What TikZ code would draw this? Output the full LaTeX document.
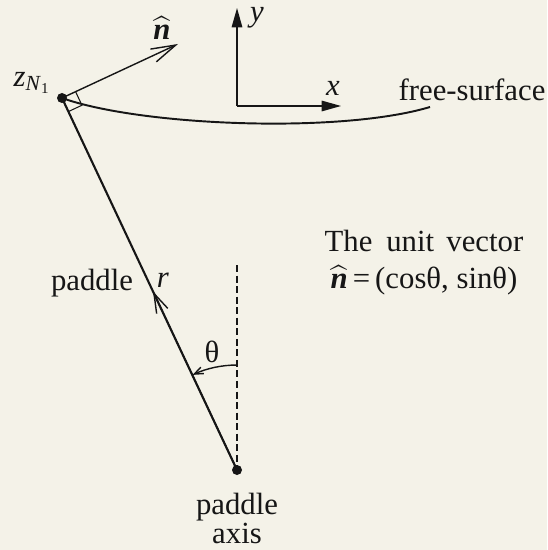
\documentclass[tikz,border=0pt]{standalone}
\usepackage{amsmath}
\usepackage{exscale}
\usepackage{fontspec}
\setmainfont{Liberation Serif}
\usetikzlibrary{arrows.meta, positioning, calc}
\definecolor{paper}{HTML}{F4F2E8}
\definecolor{ink}{HTML}{161616}
\newcommand{\nhat}{\ensuremath{\widehat{\textbf{\textit{n}}}}}
\tikzset{
  dot/.style={circle, fill=ink, inner sep=0pt, minimum size=0.2cm},
  lbl/.style={text=ink, inner sep=1pt, font=\fontsize{17.5}{21}\selectfont},
  axisarrow/.style={-{Triangle[length=11pt, width=6pt]}, draw=ink,
    line width=0.8pt},
  barb/.style={-{Straight Barb[#1]}, draw=ink, line width=0.8pt},
  paddleline/.style={draw=ink, line width=1.2pt},
  surface/.style={draw=ink, line width=1.1pt},
  thinline/.style={draw=ink, line width=0.6pt}
}

\begin{document}
\begin{tikzpicture}[x=0.02cm, y=0.02cm]
  \fill[paper] (0,0) rectangle (547,-550);
  \useasboundingbox (0,0) rectangle (547,-550);
  % points
  \node[dot] (zN) at (62,-98) {};
  \node[dot] (pivot) at (237,-470) {};
  \coordinate (nTip) at (178,-44);
  \coordinate (orig) at (237,-106);
  \coordinate (yTip) at (237,-8);
  \coordinate (xTip) at (341,-106);
  \coordinate (fsEnd) at (430,-107);
  \coordinate (vTop) at (237,-265);
  \coordinate (rMid) at ($(pivot)!0.48!(zN)$);
  \coordinate (arcStart) at ($(pivot)+(90:2.1cm)$);
  % axes
  \draw[axisarrow] (orig) -- (yTip);
  \draw[axisarrow] (orig) -- (xTip);
  % free surface and paddle
  \draw[surface] (zN.center) .. controls (140,-126) and (340,-134) .. (fsEnd);
  \draw[paddleline] (pivot.center) -- (zN.center);
  \draw[barb={length=11pt, width=7pt}] (pivot.center) -- (rMid);
  \draw[barb={length=14pt, width=8pt}] (zN.center) -- (nTip);
  \draw[thinline] ($(zN.center)+(25:0.3cm)$) -- ++(-65:0.3cm) -- ++(205:0.3cm);
  % angle
  \draw[thinline, dash pattern=on 4pt off 2pt] (vTop) -- (pivot.center);
  \draw[barb={length=5pt, width=4pt}] (arcStart)
    arc[start angle=90, end angle=115, radius=2.1cm];
  % labels
  \node[lbl] (nLbl) at (162,-28) {\nhat};
  \node[lbl] (zLbl) at (32,-83)
    {\textit{z}\textsubscript{\textit{N}\textsubscript{1}}};
  \node[lbl] (yLbl) at (257,-18) {\textit{y}};
  \node[lbl] (xLbl) at (333,-88) {\textit{x}};
  \node[lbl] (fsLbl) at (472,-90) {free-surface};
  \node[lbl] (paddleLbl) at (92,-283) {paddle};
  \node[lbl] (rLbl) at (163,-280) {\textit{r}};
  \node[lbl] (thLbl) at (212,-352) {θ};
  \node[lbl, below=0.32cm of pivot, align=center,
        font=\fontsize{17.5}{15}\selectfont] (axisLbl) {paddle\\axis};
  \node[lbl, align=center] (unitLbl) at (424,-263)
    {The\hspace{0.45em}unit\hspace{0.4em}vector\\
     \nhat\,=\,(cosθ, sinθ)};
\end{tikzpicture}
\end{document}
